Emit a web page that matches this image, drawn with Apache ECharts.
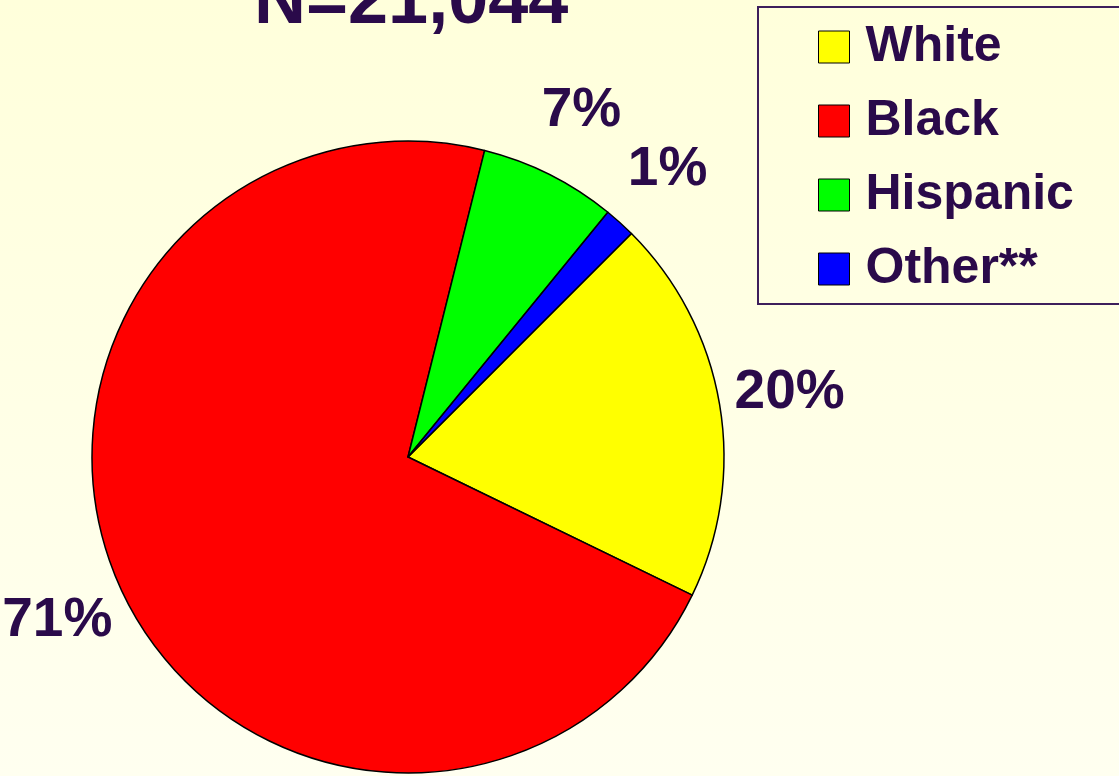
<!DOCTYPE html>
<html>
<head>
<meta charset="utf-8">
<script src="https://cdn.jsdelivr.net/npm/echarts@6/dist/echarts.min.js"></script>
<style>
html,body{margin:0;padding:0;}
#chart{width:1119px;height:776px;background:linear-gradient(to bottom,#ffffdb 0%,#fffff0 100%);}
</style>
</head>
<body>
<div id="chart"></div>
<script>
const titleText = 'N=21,044';
const categories = ['White', 'Black', 'Hispanic', 'Other**'];
const values = [19.7, 71.7, 7.0, 1.6];
const valueLabels = ['20%', '71%', '7%', '1%'];
const colors = ['#ffff00', '#ff0000', '#00ff00', '#0000ff'];

const textColor = '#2a0a4a';
const font = "'Liberation Sans', Arial, sans-serif";

const chart = echarts.init(document.getElementById('chart'), null, {renderer: 'canvas'});

const pieData = categories.map((c, i) => ({name: c, value: values[i], itemStyle: {color: colors[i]}}));
const labelData = categories.map((c, i) => ({name: c, value: values[i]}));

chart.setOption({
  backgroundColor: 'transparent',
  animation: false,
  title: {
    text: titleText,
    left: 254,
    top: -33,
    padding: 0,
    textStyle: {fontSize: 72, fontWeight: 'bold', color: textColor, fontFamily: font}
  },
  legend: {
    data: categories,
    orient: 'vertical',
    left: 758,
    top: 7,
    padding: [15, 80, 10, 60],
    itemWidth: 31,
    itemHeight: 32,
    itemGap: 24,
    icon: 'rect',
    borderColor: '#3d1f5c',
    borderWidth: 2,
    backgroundColor: 'transparent',
    itemStyle: {borderColor: '#000', borderWidth: 1},
    textStyle: {fontSize: 50, fontWeight: 'bold', color: textColor, fontFamily: font, padding: [0, 0, 0, 11]},
    selectedMode: false
  },
  series: [
    {
      type: 'pie',
      center: [408, 457],
      radius: [0, 316],
      startAngle: 45,
      clockwise: true,
      avoidLabelOverlap: false,
      silent: true,
      label: {show: false},
      labelLine: {show: false},
      itemStyle: {borderColor: '#000', borderWidth: 1.5},
      emphasis: {disabled: true},
      data: pieData
    },
    {
      type: 'pie',
      center: [408, 457],
      radius: [316, 452],
      startAngle: 45,
      clockwise: true,
      avoidLabelOverlap: false,
      silent: true,
      itemStyle: {color: 'rgba(0,0,0,0)', borderWidth: 0},
      emphasis: {disabled: true},
      labelLine: {show: false},
      label: {
        show: true,
        position: 'inside',
        formatter: p => valueLabels[p.dataIndex],
        fontSize: 55,
        fontWeight: 'bold',
        color: textColor,
        fontFamily: font
      },
      data: labelData
    }
  ]
});
</script>
</body>
</html>
